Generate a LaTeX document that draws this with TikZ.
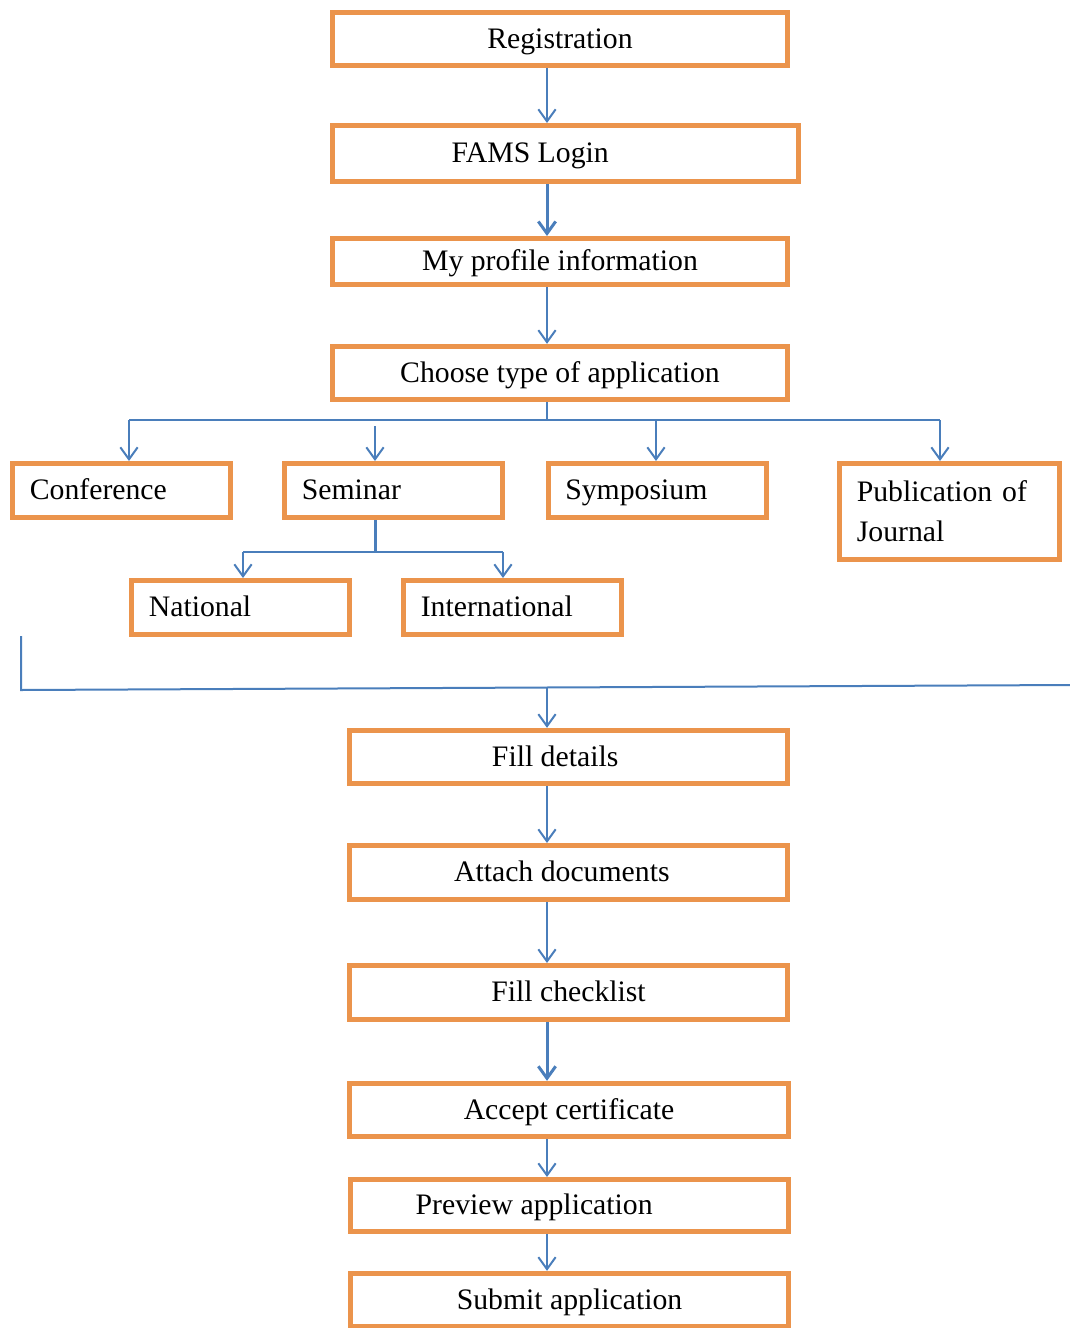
\documentclass[tikz,border=0pt]{standalone}
\usepackage{fontspec}
\setmainfont{Liberation Serif}
\usetikzlibrary{arrows.meta}
\definecolor{boxorange}{RGB}{235,148,76}
\definecolor{flowblue}{RGB}{74,126,187}

\begin{document}
\begin{tikzpicture}[x=0.75pt,y=-0.75pt,
  stepbox/.style={draw=boxorange,line width=3.75pt,minimum width=341pt,minimum height=40pt,
    inner sep=0pt,text height=15.5pt,text depth=2pt,font=\fontsize{22.3pt}{30pt}\selectfont},
  optbox/.style={stepbox,minimum width=163.5pt,minimum height=40.5pt,text width=137.5pt,
    inner xsep=13pt,align=left},
  lowbox/.style={stepbox,minimum width=328.5pt},
  textshift/.style={execute at begin node={\hspace*{#1}}},
  link/.style={draw=flowblue,line width=1.5pt},
  flow/.style={link,-{Straight Barb[length=9pt,width=13pt]}}
]
\useasboundingbox (0,0) rectangle (1070,1328);

% upper steps
\node[stepbox] (reg) at (560,39) {Registration};
\node[stepbox,minimum width=349.5pt,minimum height=42pt,textshift=-53pt] (fams) at (565.5,153.5) {FAMS Login};
\node[stepbox,minimum height=34.5pt] (prof) at (560,261.5) {My profile information};
\node[stepbox] (choose) at (560,373) {Choose type of application};

% application types
\node[optbox] (conf) at (121.5,490.5) {Conference};
\node[optbox] (sem) at (393.5,490.5) {Seminar};
\node[optbox] (symp) at (657,490.5) {Symposium};
\node[draw=boxorange,line width=3.75pt,minimum width=165pt,minimum height=72pt,text width=139pt,
  inner xsep=13pt,align=left,font=\fontsize{22.3pt}{30pt}\selectfont] (pub) at (949.5,511.5) {Publication of\\Journal};
\node[optbox] (nat) at (240.5,607.5) {National};
\node[optbox] (intl) at (512.5,607.5) {International};

% lower steps
\node[lowbox,textshift=-20pt] (fill) at (568.5,757) {Fill details};
\node[lowbox,minimum height=40.5pt,textshift=-10pt] (attach) at (568.5,872.5) {Attach documents};
\node[lowbox,minimum height=40.5pt] (check) at (568.5,992.5) {Fill checklist};
\node[lowbox,minimum width=329.25pt] (accept) at (569,1110) {Accept certificate};
\node[lowbox,minimum height=39pt,textshift=-53pt] (preview) at (569.5,1205.5) {Preview application};
\node[lowbox] (submit) at (569.5,1300) {Submit application};

% connectors
\coordinate (spine) at (547,0);
\foreach \a/\b in {reg/fams,prof/choose,fill/attach,attach/check,accept/preview,preview/submit}
  \draw[flow] (\a.south -| spine) -- (\b.north -| spine);
\foreach \a/\b in {fams/prof,check/accept}
  \draw[flow,line width=2.25pt] (\a.south -| spine) -- (\b.north -| spine);

\coordinate (busL) at (129,420);
\coordinate (busM) at (547,420);
\coordinate (busS) at (656,420);
\coordinate (busR) at (940,420);
\coordinate (semtop) at (375,426);
\draw[link] (choose.south -| spine) -- (busM);
\draw[link] (busL) -- (busR);
\draw[flow] (busL) -- (busL |- conf.north);
\draw[flow] (semtop) -- (semtop |- sem.north);
\draw[flow] (busS) -- (busS |- symp.north);
\draw[flow] (busR) -- (busR |- pub.north);

\coordinate (splitL) at (243,552);
\coordinate (splitR) at (503,552);
\draw[link,line width=2.25pt] (sem.south -| semtop) -- (semtop |- splitL);
\draw[link] (splitL) -- (splitR);
\draw[flow] (splitL) -- (splitL |- nat.north);
\draw[flow] (splitR) -- (splitR |- intl.north);

\coordinate (mergeTop) at (21,636);
\coordinate (mergeL) at (21,690);
\coordinate (mergeR) at (1070,685);
\coordinate (mergeM) at (547,687.5);
\draw[link] (mergeTop) -- (mergeL) -- (mergeR);
\draw[flow] (mergeM) -- (fill.north -| mergeM);
\end{tikzpicture}
\end{document}
